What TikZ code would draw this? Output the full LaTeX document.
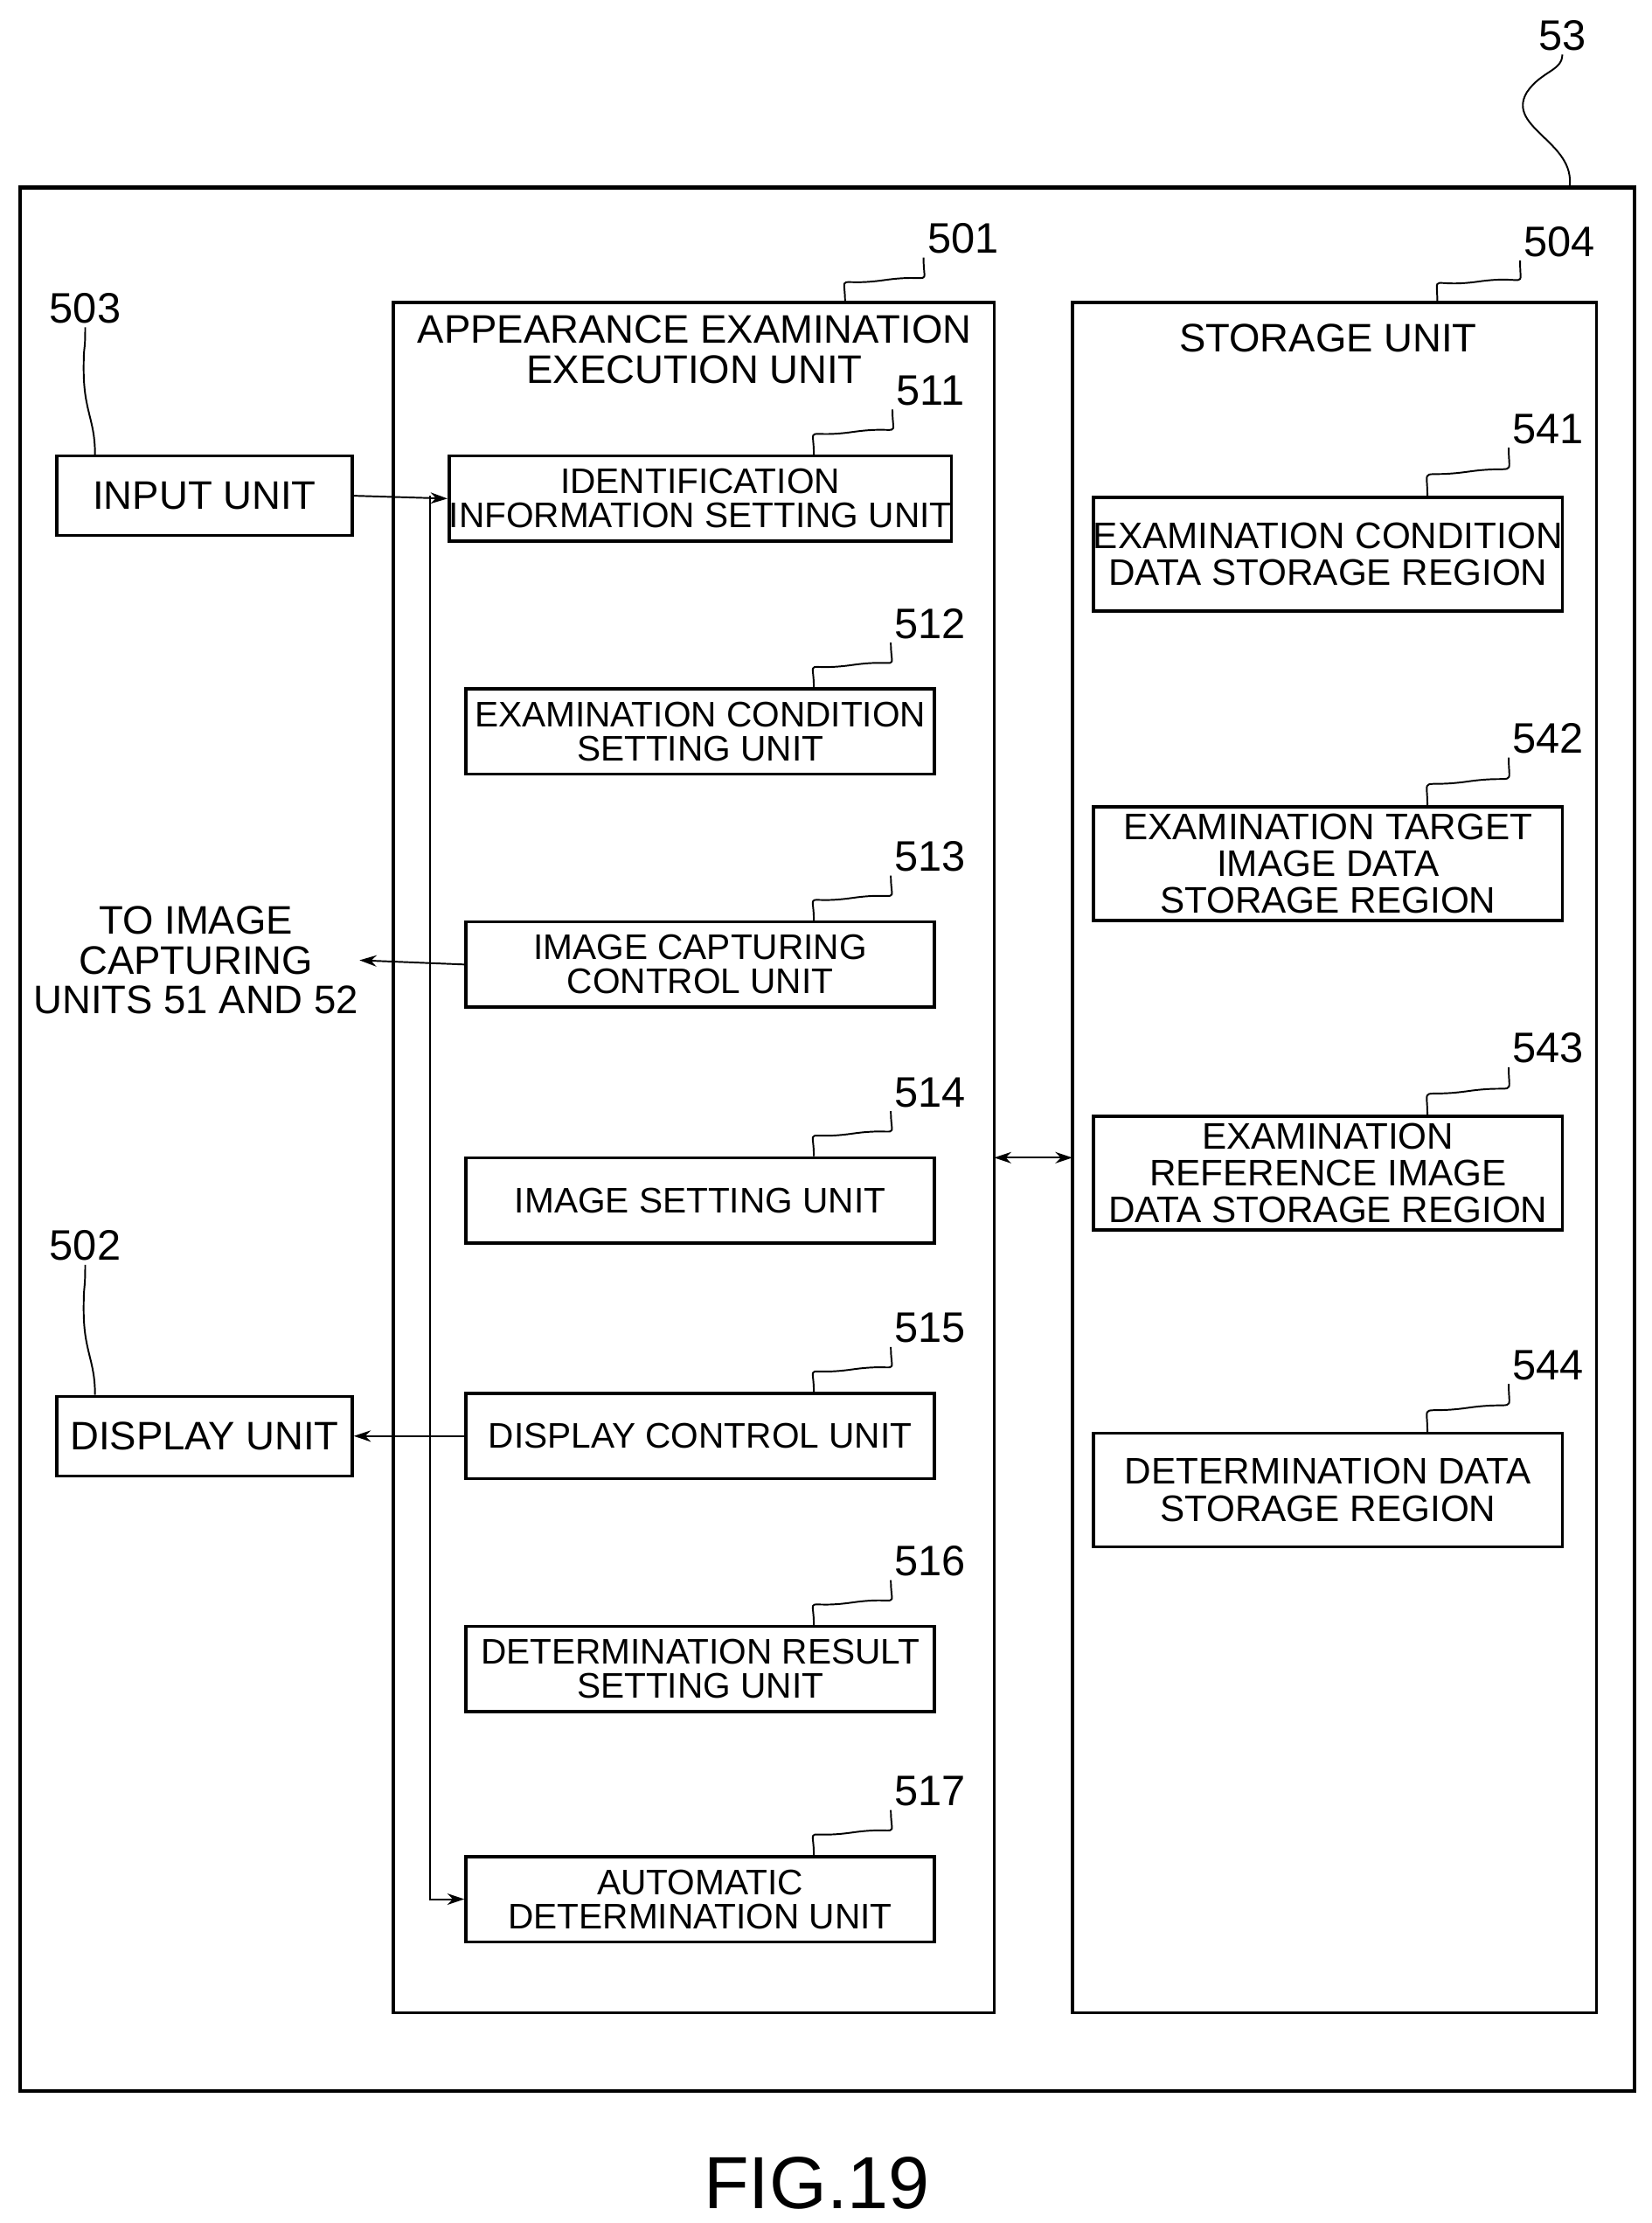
\documentclass[tikz,border=0pt]{standalone}
\usepackage{fontspec}
\setmainfont{Liberation Sans}
\usetikzlibrary{arrows.meta,calc}
\tikzset{every picture/.style={line width=0.75pt}}
\tikzset{
  unit/.style={draw,line width=1.1pt,inner sep=0pt,align=center,font=\fontsize{12.5}{12}\selectfont},
  lbl/.style={inner sep=1pt,font=\fontsize{15}{15}\selectfont},
  conn/.style={line width=0.6pt,-{Stealth[length=6pt,width=4pt]}}
}
% wavy leader from a box point up to a number label
\newcommand{\leader}[2]{\draw[line width=0.6pt] (#1) .. controls +(0,-22) and +(-35,5) .. ($(#1)!0.5!(#2)$) .. controls +(35,-5) and +(0,22) .. (#2);}

\begin{document}
\begin{tikzpicture}[x=0.5pt,y=0.5pt,yscale=-1,xscale=1]
    \useasboundingbox (0,0) rectangle (1163,1565);

    %Outer frame
    \draw[line width=1.3pt] (14,132) rectangle (1151,1472);
    \node[lbl] (n53) at (1100,25) {53};
    \coordinate (c53) at (1105,132);
    \draw[line width=0.6pt] (c53) .. controls (1110,100) and (1060,90) .. (1075,65) .. controls (1085,50) and (1100,50) .. (n53.south);

    %Execution unit and storage unit
    \draw[line width=1.1pt] (277,213) rectangle (700,1417);
    \node[align=center,inner sep=0pt,font=\fontsize{14}{14}\selectfont] (ttl) at (489,246) {APPEARANCE EXAMINATION\\EXECUTION UNIT};
    \node[lbl] (n501) at (678,168) {501};
    \coordinate (c501) at (595,213);
    \draw[line width=1.1pt] (755,213) rectangle (1124,1417);
    \node[inner sep=0pt,font=\fontsize{14}{14}\selectfont] (stl) at (935,238) {STORAGE UNIT};
    \node[lbl] (n504) at (1098,170) {504};
    \coordinate (c504) at (1012,213);

    %Input and display
    \node[unit,minimum width=104pt,minimum height=28pt,font=\fontsize{14}{14}\selectfont] (inp) at (144,349) {INPUT UNIT};
    \node[lbl] (n503) at (60,217) {503};
    \node[unit,minimum width=104pt,minimum height=28pt,font=\fontsize{14}{14}\selectfont] (disp) at (144,1011) {DISPLAY UNIT};
    \node[lbl] (n502) at (60,877) {502};
    \draw[line width=0.6pt] (inp.north west) ++(28,0) .. controls +(0,-25) and +(0,30) .. ++(-8,-60) .. controls +(0,-20) and +(0,20) .. (n503.south);
    \draw[line width=0.6pt] (disp.north west) ++(28,0) .. controls +(0,-25) and +(0,30) .. ++(-8,-60) .. controls +(0,-20) and +(0,20) .. (n502.south);

    %Execution sub-units
    \foreach \n/\y/\t in {511/351/{IDENTIFICATION\\INFORMATION SETTING UNIT},
                          512/515/{EXAMINATION CONDITION\\SETTING UNIT},
                          513/679/{IMAGE CAPTURING\\CONTROL UNIT},
                          514/845/{IMAGE SETTING UNIT},
                          515/1011/{DISPLAY CONTROL UNIT},
                          516/1175/{DETERMINATION RESULT\\SETTING UNIT},
                          517/1337/{AUTOMATIC\\DETERMINATION UNIT}} {
      \node[unit,minimum width=165pt,minimum height=30pt] (u\n) at (493,\y) {\t};
      \node[lbl] (n\n) at (655,\y-76) {\n};
      \coordinate (a\n) at ($(u\n.north)+(80,0)$);
      \leader{a\n}{n\n.south west}
    }

    %Storage regions
    \foreach \n/\y/\t in {541/390/{EXAMINATION CONDITION\\DATA STORAGE REGION},
                          542/608/{EXAMINATION TARGET\\IMAGE DATA\\STORAGE REGION},
                          543/826/{EXAMINATION\\REFERENCE IMAGE\\DATA STORAGE REGION},
                          544/1049/{DETERMINATION DATA\\STORAGE REGION}} {
      \node[unit,minimum width=165pt,minimum height=40pt,font=\fontsize{13}{13}\selectfont] (r\n) at (935,\y) {\t};
      \node[lbl] (n\n) at (1090,\y-88) {\n};
      \coordinate (a\n) at ($(r\n.north)+(70,0)$);
      \leader{a\n}{n\n.south west}
    }
    \leader{c501}{n501.south west}
    \leader{c504}{n504.south west}

    %Connectors
    \coordinate (bus) at (303,349);
    \draw[conn] (inp.east) -- (u511.west);
    \draw[conn] (bus) |- (u517.west);
    \node[align=center,inner sep=0pt,font=\fontsize{14}{14}\selectfont] (cap) at (138,676) {TO IMAGE\\CAPTURING\\UNITS 51 AND 52};
    \draw[conn] (u513.west) -- (cap.east);
    \draw[conn] (u515.west) -- (disp.east);
    \draw[line width=0.6pt,{Stealth[length=6pt,width=4pt]}-{Stealth[length=6pt,width=4pt]}] (700,815) -- (755,815);

    \node[font=\fontsize{26}{26}\selectfont] (fig) at (575,1537) {FIG.19};
\end{tikzpicture}
\end{document}
